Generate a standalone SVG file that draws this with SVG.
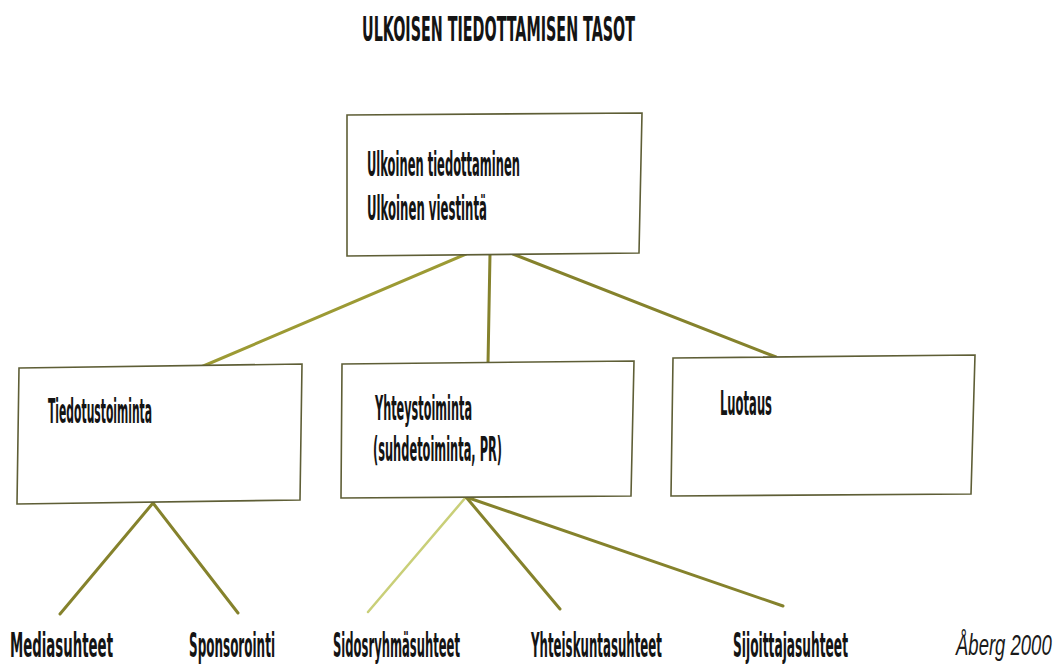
<svg xmlns="http://www.w3.org/2000/svg" width="1055" height="664" viewBox="0 0 1055 664">
<style>
.bg{fill:#ffffff}
.box{fill:#ffffff;stroke:#5e5e36;stroke-width:1.6}
.t{font-family:"DejaVu Sans","Liberation Sans",sans-serif;font-weight:bold;font-stretch:condensed;fill:#141414;font-size:34px}
.title{font-size:34px}
.src{font-family:"Liberation Sans",Arial,sans-serif;font-style:italic;font-size:29px;fill:#1a1a1a}
.c{fill:none;stroke:#85822c;stroke-width:3;stroke-linecap:round}
.c.light{stroke:#c9cf78;stroke-width:2.5}
.c.mid{stroke:#9c9a34}
</style>
<rect class="bg" x="0" y="0" width="1055" height="664"/>
<text class="t title" transform="translate(362,41) scale(0.6,1)" textLength="455" lengthAdjust="spacingAndGlyphs">ULKOISEN TIEDOTTAMISEN TASOT</text>
<g id="connectors">
<line class="c mid" x1="466" y1="254" x2="201" y2="367"/>
<line class="c" x1="490" y1="254" x2="488" y2="364"/>
<line class="c" x1="513" y1="254" x2="776" y2="357"/>
<line class="c" x1="153" y1="503" x2="60" y2="614"/>
<line class="c" x1="153" y1="503" x2="238" y2="613"/>
<line class="c light" x1="466" y1="497" x2="368" y2="612"/>
<line class="c" x1="466" y1="497" x2="560" y2="609"/>
<line class="c" x1="466" y1="497" x2="783" y2="606"/>
</g>
<g id="node-top">
<polygon class="box" points="347,115 642,113 639,253 347,256"/>
<text class="t" transform="translate(367,176) scale(0.5,1)" textLength="306" lengthAdjust="spacingAndGlyphs">Ulkoinen tiedottaminen</text>
<text class="t" transform="translate(367,220) scale(0.5,1)" textLength="240" lengthAdjust="spacingAndGlyphs">Ulkoinen viestintä</text>
</g>
<g id="node-tiedotus">
<polygon class="box" points="19,368 302,364 300,500 17,504"/>
<text class="t" transform="translate(48,423) scale(0.5,1)" textLength="208" lengthAdjust="spacingAndGlyphs">Tiedotustoiminta</text>
</g>
<g id="node-yhteys">
<polygon class="box" points="342,364 634,361 631,496 341,498"/>
<text class="t" transform="translate(375,420) scale(0.5,1)" textLength="194" lengthAdjust="spacingAndGlyphs">Yhteystoiminta</text>
<text class="t" transform="translate(373,461) scale(0.5,1)" textLength="258" lengthAdjust="spacingAndGlyphs">(suhdetoiminta, PR)</text>
</g>
<g id="node-luotaus">
<polygon class="box" points="673,358 975,355 971,494 671,496"/>
<text class="t" transform="translate(720,415) scale(0.5,1)" textLength="104" lengthAdjust="spacingAndGlyphs">Luotaus</text>
</g>
<g id="node-media"><text class="t" transform="translate(10,657) scale(0.5,1)" textLength="206" lengthAdjust="spacingAndGlyphs">Mediasuhteet</text></g>
<g id="node-sponsor"><text class="t" transform="translate(189,657) scale(0.5,1)" textLength="172" lengthAdjust="spacingAndGlyphs">Sponsorointi</text></g>
<g id="node-sidos"><text class="t" transform="translate(333,657) scale(0.5,1)" textLength="254" lengthAdjust="spacingAndGlyphs">Sidosryhmäsuhteet</text></g>
<g id="node-yhteiskunta"><text class="t" transform="translate(531,657) scale(0.5,1)" textLength="262" lengthAdjust="spacingAndGlyphs">Yhteiskuntasuhteet</text></g>
<g id="node-sijoittaja"><text class="t" transform="translate(733,657) scale(0.5,1)" textLength="230" lengthAdjust="spacingAndGlyphs">Sijoittajasuhteet</text></g>
<text class="src" transform="translate(956,655) scale(0.66,1)" textLength="145" lengthAdjust="spacingAndGlyphs">Åberg 2000</text>
</svg>
